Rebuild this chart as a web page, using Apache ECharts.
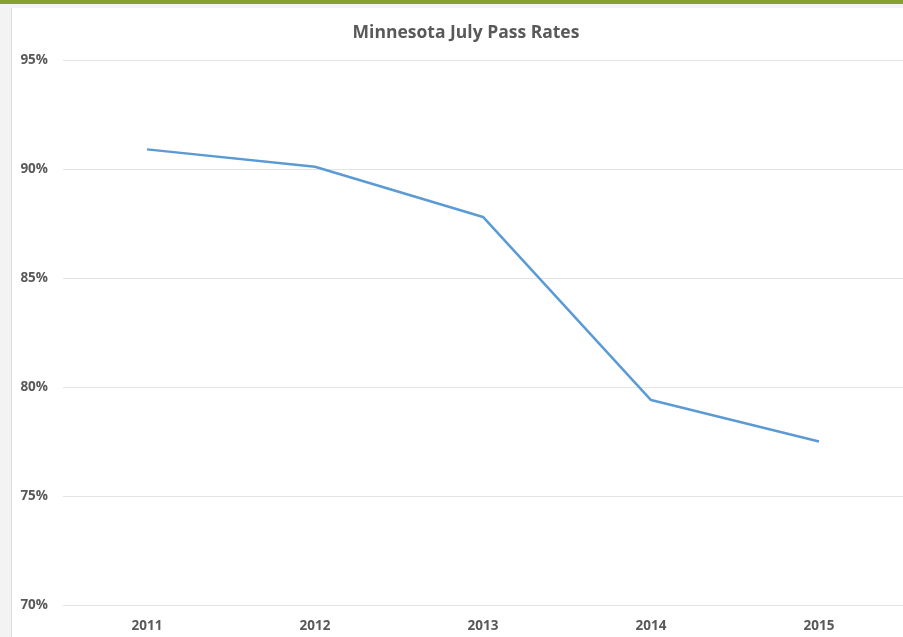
<!DOCTYPE html>
<html>
<head>
<meta charset="utf-8">
<script src="https://cdn.jsdelivr.net/npm/echarts@6/dist/echarts.min.js"></script>
<style>
  html, body { margin: 0; padding: 0; background: #fff; }
  #chart { width: 903px; height: 637px; }
</style>
</head>
<body>
<div id="chart"></div>
<script>
const years = ['2011', '2012', '2013', '2014', '2015']
const passRates = [90.9, 90.1, 87.8, 79.4, 77.5]
const yTicks = { min: 70, max: 95, step: 5 }

const textColor = '#595959'
const chart = echarts.init(document.getElementById('chart'), null, { renderer: 'canvas' })

chart.setOption({
  animation: false,
  backgroundColor: '#fff',
  graphic: [
    { type: 'rect', shape: { x: 0, y: 0, width: 903, height: 8 }, style: { fill: '#f3f3f3' }, z: -1 },
    { type: 'rect', shape: { x: 0, y: 0, width: 11, height: 637 }, style: { fill: '#f3f3f3' }, z: -1 },
    { type: 'rect', shape: { x: 11, y: 8, width: 1, height: 629 }, style: { fill: '#dcdcdc' }, z: -1 },
    { type: 'rect', shape: { x: 0, y: 0, width: 903, height: 4 }, style: { fill: '#87a02f' }, z: 10 },
  ],
  title: {
    text: 'Minnesota July Pass Rates',
    left: 461,
    top: 19,
    textAlign: 'center',
    textStyle: { color: textColor, fontFamily: 'Open Sans', fontWeight: 'bold', fontSize: 17.5 },
  },
  grid: { left: 63, right: -8, top: 60, bottom: 32 },
  xAxis: {
    type: 'category',
    data: years,
    boundaryGap: true,
    axisLine: { show: false },
    axisTick: { show: false },
    axisLabel: { color: textColor, fontFamily: 'Open Sans', fontWeight: 'bold', fontSize: 13.5, margin: 14 },
  },
  yAxis: {
    type: 'value',
    min: yTicks.min,
    max: yTicks.max,
    interval: yTicks.step,
    axisLine: { show: false },
    axisTick: { show: false },
    axisLabel: {
      color: textColor, fontFamily: 'Open Sans', fontWeight: 'bold', fontSize: 13.5, margin: 15,
      formatter: (v) => v + '%',
    },
    splitLine: { lineStyle: { color: '#e3e3e3', width: 1 } },
  },
  series: [{
    type: 'line',
    data: passRates,
    showSymbol: false,
    symbol: 'none',
    lineStyle: { color: '#5b9bd5', width: 2.5 },
  }],
})
</script>
</body>
</html>
